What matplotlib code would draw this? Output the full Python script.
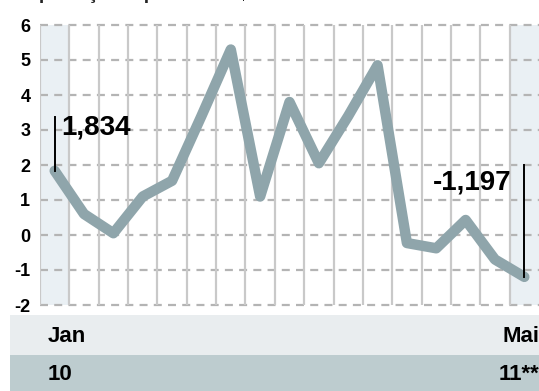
import matplotlib
matplotlib.use("Agg")
import matplotlib.pyplot as plt
from matplotlib.patches import Rectangle

plt.rcParams["font.family"] = ["Liberation Sans", "DejaVu Sans"]

# ── Data ────────────────────────────────────────────────────────────────────
months = ["Jan", "Fev", "Mar", "Abr", "Mai", "Jun", "Jul", "Ago", "Set",
          "Out", "Nov", "Dez", "Jan", "Fev", "Mar", "Abr", "Mai"]
years = ["10", "11**"]
values = [1.834, 0.6, 0.05, 1.1, 1.55, 3.4, 5.3, 1.1, 3.8,
          2.05, 3.4, 4.85, -0.23, -0.38, 0.43, -0.7, -1.197]
yticks = [-2, -1, 0, 1, 2, 3, 4, 5, 6]

LINE = "#8fa5ab"
GRID = "#c9c9c9"
SHADE = "#eaf0f4"
BAND_LIGHT = "#e9edef"
BAND_DARK = "#bdcccf"

W, H = 539, 391
fig = plt.figure(figsize=(W / 100, H / 100), dpi=100)

def px(x0, y0, x1, y1):
    """pixel box (top-left origin) -> figure fraction rect"""
    return [x0 / W, 1 - y1 / H, (x1 - x0) / W, (y1 - y0) / H]

ax = fig.add_axes(px(40, 25, 539, 305))
n = len(values)
xs = list(range(n))
ax.set_xlim(-0.5, n - 0.5)
ax.set_ylim(yticks[0], yticks[-1])

# first and last month columns highlighted
for i in (0, n - 1):
    ax.axvspan(i - 0.5, i + 0.5, color=SHADE, lw=0, zorder=0)

for y in yticks:
    ax.axhline(y, color="#b4b4b4", lw=1.6, dashes=(3.6, 2.8), zorder=1,
               clip_on=False)
for i in range(n):
    ax.axvline(i - 0.5, color=GRID, lw=1.6, zorder=1)

ax.plot(xs, values, color=LINE, lw=7.5, solid_joinstyle="round",
        solid_capstyle="round", zorder=3)

# value callouts for the first and last points
fmt = lambda v: f"{v:,.3f}".replace(",", "X").replace(".", ",").replace("X", ".")
ax.plot([0, 0], [values[0], 3.37], color="black", lw=1.4, zorder=4)
ax.text(0.22, 3.06, fmt(values[0]), fontsize=20, fontweight="bold",
        ha="left", va="center", zorder=5)
ax.plot([n - 1, n - 1], [values[-1], 2.0], color="black", lw=1.4, zorder=4)
ax.text(n - 1.45, 1.5, fmt(values[-1]), fontsize=20, fontweight="bold",
        ha="right", va="center", zorder=5)

ax.set_yticks(yticks)
ax.set_yticklabels([str(t) for t in yticks], fontsize=13, fontweight="bold")
ax.tick_params(axis="y", length=0, pad=7)
ax.set_xticks([])
for s in ax.spines.values():
    s.set_visible(False)

# month / year bands under the chart
fig.patches.append(Rectangle((10 / W, 1 - 355 / H), 529 / W, 40 / H,
                             transform=fig.transFigure, color=BAND_LIGHT, lw=0))
fig.patches.append(Rectangle((10 / W, 0), 529 / W, 36 / H,
                             transform=fig.transFigure, color=BAND_DARK, lw=0))
fig.text(48 / W, 1 - 337 / H, months[0], fontsize=16, fontweight="bold",
         ha="left", va="center")
fig.text(1.0, 1 - 337 / H, months[-1], fontsize=16, fontweight="bold",
         ha="right", va="center")
fig.text(48 / W, 1 - 375 / H, years[0], fontsize=16, fontweight="bold",
         ha="left", va="center")
fig.text(1.0, 1 - 375 / H, years[1], fontsize=16, fontweight="bold",
         ha="right", va="center")

# heading sits above the top edge
fig.text(15 / W, 1 + 1 / H, "Exportação líquida – US$ bi", fontsize=14,
         fontweight="bold", color="#222222", ha="left", va="baseline")

fig.savefig("out.png", dpi=100)
